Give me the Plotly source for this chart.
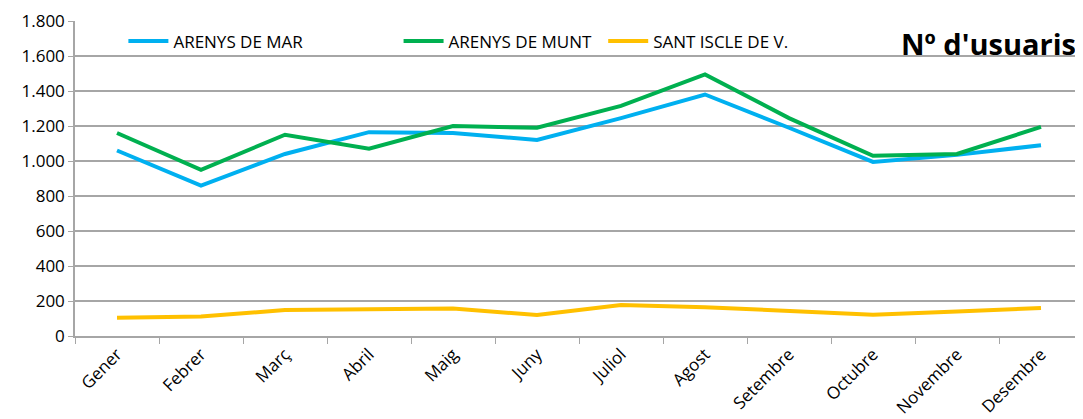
import plotly.graph_objects as go

MONTHS = ["Gener", "Febrer", "Març", "Abril", "Maig", "Juny",
          "Juliol", "Agost", "Setembre", "Octubre", "Novembre", "Desembre"]
ARENYS_MAR = [1060, 860, 1040, 1165, 1160, 1120, 1245, 1380, 1190, 995, 1035, 1090]
ARENYS_MUNT = [1160, 950, 1150, 1070, 1200, 1190, 1315, 1495, 1245, 1030, 1040, 1195]
SANT_ISCLE = [105, 112, 148, 155, 157, 120, 177, 165, 142, 122, 140, 160]

SERIES = [
    ("ARENYS DE MAR", ARENYS_MAR, "#00B0F0", "legend", 0.048),
    ("ARENYS DE MUNT", ARENYS_MUNT, "#00B050", "legend2", 0.321),
    ("SANT ISCLE DE V.", SANT_ISCLE, "#FFC000", "legend3", 0.524),
]

FONT = "'Open Sans', sans-serif"
GRID = "#A6A6A6"

fig = go.Figure()
for name, vals, color, leg, _ in SERIES:
    fig.add_trace(go.Scatter(
        x=MONTHS, y=vals, mode="lines", name=name,
        line=dict(color=color, width=4),
        legend=leg,
    ))

legend_common = dict(
    orientation="h", yanchor="middle", y=0.935, xanchor="left",
    bgcolor="rgba(0,0,0,0)", font=dict(size=17, color="#000000", family=FONT),
    itemwidth=40,
)
layout_legends = {}
for name, vals, color, leg, xpos in SERIES:
    layout_legends[leg] = dict(legend_common, x=xpos)

# page body has an 8px margin, so the figure is sized to end at the window edge
fig.update_layout(
    width=1075, height=411,
    paper_bgcolor="white", plot_bgcolor="white",
    font=dict(family=FONT, size=17, color="#000000"),
    separators=",.",
    margin=dict(l=67, r=0, t=13, b=83),
    showlegend=True,
    xaxis=dict(
        type="category", range=[-0.5, 11.5], tickangle=-45, tickson="boundaries",
        ticks="outside", ticklen=6, tickcolor=GRID,
        showline=True, linecolor=GRID, linewidth=1.5,
        showgrid=False, tickfont=dict(size=17), automargin=False,
    ),
    yaxis=dict(
        range=[0, 1800], dtick=200, tickformat=",d",
        ticks="outside", ticklen=5, tickcolor=GRID,
        showline=True, linecolor=GRID, linewidth=1.5,
        gridcolor=GRID, gridwidth=1.5, zeroline=False,
        tickfont=dict(size=17), automargin=False,
    ),
    annotations=[dict(
        text="<b>Nº d'usuaris</b>", xref="paper", yref="paper",
        x=1.0, y=0.93, xanchor="right", yanchor="middle", xshift=-5,
        showarrow=False, font=dict(size=29, family=FONT, color="#000000"),
    )],
    **layout_legends,
)

fig.write_html("out.html")
